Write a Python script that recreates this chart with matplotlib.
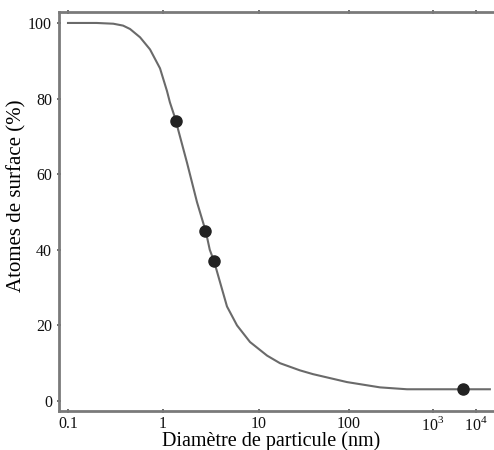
import numpy as np
import matplotlib
matplotlib.use("Agg")
import matplotlib.pyplot as plt

plt.rcParams['font.family'] = ['Liberation Serif', 'DejaVu Serif']
plt.rcParams['mathtext.fontset'] = 'custom'
plt.rcParams['mathtext.rm'] = 'Liberation Serif'

# courbe (diametre en nm, % atomes de surface)
curve_d = [0.1, 0.2, 0.3, 0.38, 0.45, 0.574, 0.73, 0.93, 1.10, 1.18, 1.33,
           1.78, 2.26, 2.8, 3.07, 3.4, 3.92, 4.64, 5.9, 8.06, 12.3, 17.1,
           28.5, 39.8, 95, 234, 490, 5000, 21000]
curve_pct = [100, 100, 99.8, 99.3, 98.4, 96.2, 93.0, 88, 82, 79, 75,
             63, 52.6, 44.7, 40, 37, 31.5, 25, 20, 15.6, 12.0, 10.0,
             8.1, 7.1, 5.0, 3.6, 3.1, 3.1, 3.1]

# points mesures
pts_d = [1.37, 2.74, 3.4, 5000]
pts_pct = [74, 45, 37, 3.1]

xticks = [0.1, 1, 10, 100, 1e3, 1e4]
xticklabels = ['0.1', '1', '10', '100', '$10^3$', '$10^4$']
yticks = [0, 20, 40, 60, 80, 100]

# echelle log "ecrasee" de la figure d'origine (decade 10^3-10^4 plus courte)
_log_nodes = np.array([-2, -1, 0, 1, 2, 3, 4, 6])
_pos_nodes = np.array([-27, 68, 163, 259, 349, 433, 476, 562], dtype=float)


def fwd(x):
    x = np.asarray(x, dtype=float)
    lx = np.log10(np.clip(x, 1e-3, None))
    return np.interp(lx, _log_nodes, _pos_nodes)


def inv(p):
    p = np.asarray(p, dtype=float)
    return 10 ** np.interp(p, _pos_nodes, _log_nodes)


fig = plt.figure(figsize=(4.94, 4.5), dpi=100)
ax = fig.add_axes([59 / 494, 1 - 411 / 450, 1 - 59 / 494, (411 - 12) / 450])

ax.set_xscale('function', functions=(fwd, inv))
ax.set_xlim(inv(59), inv(494))
ax.set_ylim(-2.65, 102.9)

ax.plot(curve_d, curve_pct, color='#6a6a6a', lw=1.5, zorder=2,
        solid_joinstyle='round')
ax.plot(pts_d, pts_pct, 'o', color='#222222', ms=8, zorder=3)

ax.set_xticks(xticks)
ax.set_xticklabels(xticklabels)
ax.set_yticks(yticks)
ax.minorticks_off()
ax.tick_params(axis='both', labelsize=11.5, colors='#555555', labelcolor='#111111',
               width=1.2, length=3, direction='inout', top=True)
ax.tick_params(axis='x', pad=2)

for s in ['left', 'bottom', 'top']:
    ax.spines[s].set_color('#7a7a7a')
    ax.spines[s].set_linewidth(2)
ax.spines['right'].set_visible(False)

ax.set_ylabel('Atomes de surface (%)', fontsize=15)
ax.yaxis.set_label_coords(-0.074, 0.54)
ax.set_xlabel('Diamètre de particule (nm)', fontsize=14.5)
ax.xaxis.set_label_coords(0.487, -0.05)

fig.savefig('out.png', dpi=100)
